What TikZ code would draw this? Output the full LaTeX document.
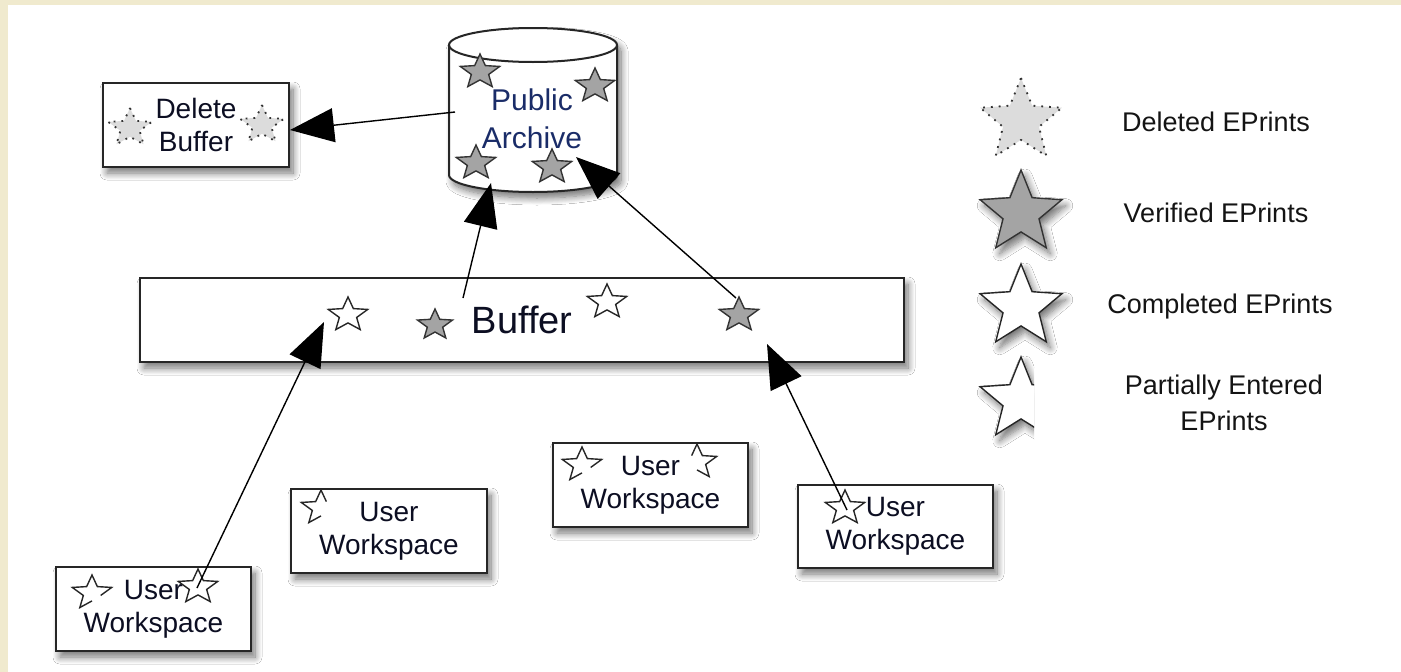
\documentclass[tikz,border=0pt]{standalone}
\usepackage{fontspec}
\setmainfont{Liberation Sans}
\usetikzlibrary{arrows.meta,shadows.blur}
\definecolor{beige}{HTML}{F0EACE}
\definecolor{vgray}{HTML}{A4A4A4}
\definecolor{dgray}{HTML}{DCDCDC}
\definecolor{txtblue}{HTML}{0C0E22}
\definecolor{pablue}{HTML}{1A2C68}
% star: #1 style, #2 cx, #3 cy, #4 R, #5 xscale
\newcommand\drawstar[5]{%
  \path[#1] (#2,#3-#4) \foreach \k in {1,...,9}{ -- ({#2+#5*#4*(0.72+0.28*cos(180*\k))*cos(-90+36*\k)},{#3+#4*(0.72+0.28*cos(180*\k))*sin(-90+36*\k)}) } -- cycle;}
% open star: #1 style, #2 cx, #3 cy, #4 R, #5 xscale, #6 first index, #7 other indices
\newcommand\drawopenstar[7]{%
  \path[#1] ({#2+#5*#4*(0.72+0.28*cos(180*#6))*cos(-90+36*#6)},{#3+#4*(0.72+0.28*cos(180*#6))*sin(-90+36*#6)}) \foreach \k in {#7}{ -- ({#2+#5*#4*(0.72+0.28*cos(180*\k))*cos(-90+36*\k)},{#3+#4*(0.72+0.28*cos(180*\k))*sin(-90+36*\k)}) };}
\tikzset{
  bsh/.style={blur shadow={shadow xshift=4pt, shadow yshift=-6pt, shadow blur radius=7pt, shadow blur steps=10, shadow opacity=55}},
  box/.style={draw=black!85, line width=2.2pt, fill=white, inner sep=0pt, align=center, text=txtblue, font=\fontsize{28}{33}\selectfont, bsh},
  arr/.style={draw=black, line width=1.4pt, -{Triangle[length=44pt,width=34pt]}},
  vstar/.style={draw=black!80, fill=vgray, line width=1.4pt, line join=miter},
  cstar/.style={draw=black!85, fill=white, line width=1.4pt},
  pstar/.style={draw=black!85, line width=1.4pt},
  dstar/.style={draw=black!80, fill=dgray, line width=1.8pt, dash pattern=on 1.8pt off 6pt},
  legtext/.style={font=\fontsize{27}{36}\selectfont, text=black!92, align=center},
}
\begin{document}
\begin{tikzpicture}[x=1pt,y=-1pt]
\useasboundingbox (0,0) rectangle (1401,672);
\fill[beige] (0,0) rectangle (1401,672);
\fill[white] (8,5) rectangle (1401,672);

% Public Archive cylinder
\path[draw=black!85, fill=white, line width=2pt, bsh] (449,45) -- (449,175)
  arc[start angle=180,end angle=0,x radius=84,y radius=17] -- (617,45)
  arc[start angle=0,end angle=-180,x radius=84,y radius=17] -- cycle;
\draw[black!85, line width=2pt] (449,45) arc[start angle=180,end angle=0,x radius=84,y radius=17];
\node[text=pablue, font=\fontsize{30}{38}\selectfont, align=center] (archive) at (532,119) {Public\\Archive};
\drawstar{vstar}{480}{72}{18}{1.15}
\drawstar{vstar}{595}{86}{18}{1.15}
\drawstar{vstar}{476}{163}{18}{1.15}
\drawstar{vstar}{552}{167}{18}{1.15}

% Delete buffer
\node[box, minimum width=186pt, minimum height=84pt] (delbuf) at (196,125) {Delete\\Buffer};
\drawstar{dstar}{130}{128}{20}{1.15}
\drawstar{dstar}{262}{125}{20}{1.15}

% Buffer
\node[box, minimum width=764pt, minimum height=84pt, font=\fontsize{38}{44}\selectfont] (buffer) at (522,320) {Buffer};
\drawstar{cstar}{348}{315}{18}{1.15}
\drawstar{vstar}{435}{325}{16}{1.15}
\drawstar{cstar}{607}{302}{18}{1.15}
\drawstar{vstar}{739}{315}{18}{1.15}

% User workspaces
\node[box, minimum width=195pt, minimum height=84pt] (ws1) at (153.5,609) {User\\Workspace};
\node[box, minimum width=196pt, minimum height=84pt] (ws2) at (389,531) {User\\Workspace};
\node[box, minimum width=195pt, minimum height=84pt] (ws3) at (650.5,485) {User\\Workspace};
\node[box, minimum width=195pt, minimum height=83pt] (ws4) at (895.5,526.5) {User\\Workspace};
\drawopenstar{pstar}{92}{593}{18}{1.15}{3}{2,1,0,9,8,7,6,5}
\drawstar{cstar}{198}{587}{18}{1.15}
\drawopenstar{pstar}{321}{508}{18}{1.15}{1}{0,9,8,7,6,5}
\drawopenstar{pstar}{582}{465}{18}{1.15}{3}{2,1,0,9,8,7,6,5}
\drawopenstar{pstar}{697}{462}{18}{1.15}{9}{0,1,2,3,4,5}
\drawstar{cstar}{845}{508}{18}{1.15}

% connectors
\coordinate (paL) at (455,112);
\coordinate (dbR) at (290,130);
\coordinate (bfA) at (463,298);
\coordinate (paB) at (491,183);
\coordinate (bfB) at (736,298);
\coordinate (paC) at (576,157);
\coordinate (w1s) at (197,588);
\coordinate (bfC) at (324,322);
\coordinate (w4s) at (847,510);
\coordinate (bfD) at (767,344);
\draw[arr] (paL) -- (dbR);
\draw[arr] (bfA) -- (paB);
\draw[arr] (bfB) -- (paC);
\draw[arr] (w1s) -- (bfC);
\draw[arr] (w4s) -- (bfD);

% legend
\drawstar{dstar}{1021}{121}{43}{1}
\drawstar{vstar,bsh}{1021}{213}{43}{1}
\drawstar{cstar,bsh}{1021}{307}{43}{1}
\begin{scope}
  \clip (970,340) rectangle (1034,470);
  \drawstar{cstar,bsh}{1021}{400}{43}{1}
\end{scope}
\node[legtext] (lgd) at (1216,122) {Deleted EPrints};
\node[legtext] (lgv) at (1216,213) {Verified EPrints};
\node[legtext] (lgc) at (1220,307) {Completed EPrints};
\node[legtext] (lgp) at (1224,403) {Partially Entered\\EPrints};
\end{tikzpicture}
\end{document}
